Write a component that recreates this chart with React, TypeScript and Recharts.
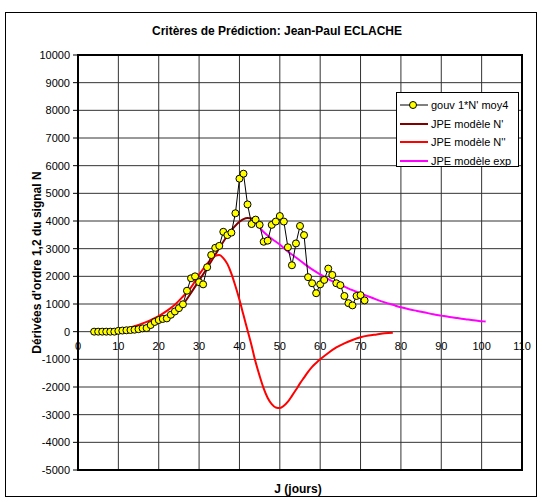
import {
  ComposedChart,
  Line,
  XAxis,
  YAxis,
  CartesianGrid,
  ReferenceArea,
  ReferenceDot,
  Legend,
} from 'recharts'

// gouv 1*N' moy4 : une valeur par jour, du jour 4 au jour 71
const GOUV_START = 4
const gouvValues = [
  0, 0, 0, 0, 0, 0,
  30, 40, 50, 60, 70, 90, 120, 130,
  240, 350, 420, 460, 480, 610, 730, 850, 990, 1480, 1930, 2000, 1790, 1710,
  2330, 2770, 3030, 3100, 3610, 3490, 3580, 4280, 5530, 5710, 4600, 3890,
  4050, 3860, 3250, 3290, 3860, 3980, 4180, 3980, 3050, 2400, 3190, 3820,
  3490, 1970, 1750, 1390, 1710, 1870, 2280, 2050, 1750, 1680, 1290, 1030,
  950, 1290, 1320, 1130,
]

// JPE modèle N'
const nPrimeDays = [10, 12, 14, 16, 18, 20, 22, 24, 26, 28, 30, 32, 34, 36, 38, 40, 41, 42, 43, 44]
const nPrimeValues = [30, 60, 110, 180, 270, 380, 520, 720, 980, 1400, 1850, 2300, 2780, 3250, 3660, 3970, 4070, 4110, 4090, 4030]

// JPE modèle N''
const nSecondDays = [
  10, 12, 14, 16, 18, 20, 22, 24, 26, 28, 30, 32, 34, 35, 36, 37, 38, 39, 40, 41,
  42, 43, 44, 45, 46, 47, 48, 49, 50, 51, 52, 53, 54, 55, 56, 57, 58, 59, 60, 62,
  64, 66, 68, 70, 72, 74, 76, 78,
]
const nSecondValues = [
  60, 120, 200, 300, 420, 560, 750, 970, 1270, 1600, 2060, 2450, 2740, 2770, 2660, 2450, 2100, 1650, 1150, 600,
  50, -500, -1100, -1600, -2050, -2400, -2620, -2740, -2760, -2680, -2530, -2320, -2100, -1870, -1660, -1450, -1270, -1130, -1000, -770,
  -570, -420, -300, -200, -140, -100, -60, -35,
]

// JPE modèle exp
const expDays = [44, 46, 48, 50, 52, 54, 56, 58, 60, 62, 64, 66, 68, 70, 72, 74, 76, 78, 80, 82, 84, 86, 88, 90, 92, 94, 96, 98, 100, 101]
const expValues = [3950, 3600, 3360, 3150, 2900, 2680, 2460, 2250, 2070, 1900, 1760, 1630, 1500, 1390, 1270, 1160, 1060, 970, 880, 810, 750, 690, 630, 580, 530, 490, 450, 410, 380, 365]

const xTicks = [0, 10, 20, 30, 40, 50, 60, 70, 80, 90, 100, 110]
const yTicks = [-5000, -4000, -3000, -2000, -1000, 0, 1000, 2000, 3000, 4000, 5000, 6000, 7000, 8000, 9000, 10000]

const gouvData = gouvValues.map((v, i) => ({ j: GOUV_START + i, v }))
const nPrimeData = nPrimeDays.map((j, i) => ({ j, v: nPrimeValues[i] }))
const nSecondData = nSecondDays.map((j, i) => ({ j, v: nSecondValues[i] }))
const expData = expDays.map((j, i) => ({ j, v: expValues[i] }))

const FONT = '"Liberation Sans", Arial, sans-serif'

const legendItems = [
  { label: "gouv 1*N' moy4", color: '#000000', marker: true },
  { label: "JPE modèle N'", color: '#800000', marker: false },
  { label: "JPE modèle N''", color: '#ff0000', marker: false },
  { label: 'JPE modèle exp', color: '#ff00ff', marker: false },
]

function LegendBox() {
  return (
    <div style={{
      width: 123,
      height: 75,
      boxSizing: 'border-box',
      border: '1px solid #000',
      background: '#fff',
      padding: '3px 0 0 3px',
      fontFamily: FONT,
      fontSize: 11,
      color: '#000',
    }}>
      {legendItems.map((it) => (
        <div key={it.label} style={{ display: 'flex', alignItems: 'center', height: 18.5 }}>
          <svg width={28} height={10} style={{ marginRight: 3 }}>
            <line x1={0} y1={5} x2={28} y2={5} stroke={it.color} strokeWidth={it.marker ? 1 : 2} />
            {it.marker && <circle cx={13} cy={5} r={3.5} fill="#ffff00" stroke="#000" strokeWidth={1} />}
          </svg>
          <span style={{ whiteSpace: 'nowrap' }}>{it.label}</span>
        </div>
      ))}
    </div>
  )
}

export default function App() {
  return (
    <div style={{ position: 'absolute', left: 0, top: 0, width: 542, height: 502, background: '#fff', fontFamily: FONT }}>
      {/* cadre extérieur */}
      <div style={{
        position: 'absolute', left: 5, top: 12, width: 532, height: 485,
        border: '1px solid #000', boxSizing: 'border-box',
      }} />

      <div style={{
        position: 'absolute', left: 0, top: 24, width: 554, textAlign: 'center',
        fontSize: 12, fontWeight: 'bold',
      }}>
        Critères de Prédiction: Jean-Paul ECLACHE
      </div>

      <div style={{
        position: 'absolute', left: 76, top: 482, width: 444, textAlign: 'center',
        fontSize: 12, fontWeight: 'bold',
      }}>
        J (jours)
      </div>

      <div style={{ position: 'absolute', left: 0, top: 0 }}>
        <ComposedChart width={542} height={502} margin={{ top: 55, right: 20, bottom: 32, left: 18 }}>
          <CartesianGrid stroke="#333333" strokeWidth={1} />
          <XAxis
            type="number"
            dataKey="j"
            domain={[0, 110]}
            ticks={xTicks}
            allowDataOverflow
            hide
          />
          <YAxis
            type="number"
            domain={[-5000, 10000]}
            ticks={yTicks}
            interval={0}
            width={60}
            axisLine={false}
            tickLine={{ stroke: '#000' }}
            tickSize={5}
            tickMargin={3}
            tick={{ fill: '#000', fontSize: 11, fontFamily: FONT }}
            label={{
              value: "Dérivées d'ordre 1,2 du signal N",
              angle: -90,
              position: 'center',
              dx: -11,
              style: { fontSize: 12, fontWeight: 'bold', fill: '#000', fontFamily: FONT },
            }}
          />

          {/* cadre de la zone de tracé */}
          <ReferenceArea x1={0} x2={110} y1={-5000} y2={10000} fill="none" stroke="#000" strokeWidth={2} fillOpacity={0} />

          {/* étiquettes de l'axe X, posées sur la ligne 0 */}
          {xTicks.map((t) => (
            <ReferenceDot
              key={t}
              x={t}
              y={0}
              r={1}
              fill="none"
              stroke="none"
              label={{ value: t, position: 'bottom', offset: 10, fontSize: 11, fill: '#000', fontFamily: FONT }}
            />
          ))}

          <Line data={nPrimeData} dataKey="v" type="monotone" stroke="#800000" strokeWidth={2} dot={false} isAnimationActive={false} />
          <Line data={nSecondData} dataKey="v" type="monotone" stroke="#ff0000" strokeWidth={2} dot={false} isAnimationActive={false} />
          <Line data={expData} dataKey="v" type="monotone" stroke="#ff00ff" strokeWidth={2} dot={false} isAnimationActive={false} />
          <Line
            data={gouvData}
            dataKey="v"
            type="linear"
            stroke="#000"
            strokeWidth={1}
            dot={{ r: 3.5, fill: '#ffff00', stroke: '#000', strokeWidth: 1 }}
            isAnimationActive={false}
          />

          <Legend
            layout="horizontal"
            align="center"
            verticalAlign="middle"
            wrapperStyle={{ top: 92, left: 396, width: 123, height: 75 }}
            content={() => <LegendBox />}
          />
        </ComposedChart>
      </div>
    </div>
  )
}
